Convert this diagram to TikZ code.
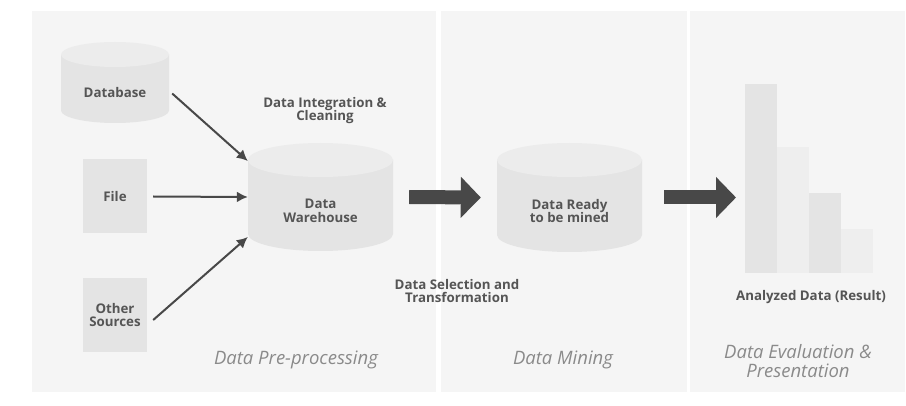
\documentclass[tikz,border=0pt]{standalone}
\usepackage{fontspec}
\setmainfont{Open Sans}
\usepackage{tikz}
\usetikzlibrary{arrows.meta,positioning}

\definecolor{panel}{HTML}{F5F5F5}
\definecolor{drumside}{HTML}{E4E4E4}
\definecolor{drumtop}{HTML}{ECECEC}
\definecolor{barlight}{HTML}{EEEEEE}
\definecolor{ink}{HTML}{555555}
\definecolor{soft}{HTML}{8A8A8A}
\definecolor{pointer}{HTML}{484848}

% drum: name, centre, half width, half height, cap radius, text
\newcommand{\drum}[6]{%
\coordinate (#1-c) at (#2);
\fill[drumside] ([shift={(-#3,#4-#5)}]#1-c) -- ([shift={(-#3,-#4+#5)}]#1-c)
  arc[start angle=180, end angle=360, x radius=#3, y radius=#5]
  -- ([shift={(#3,#4-#5)}]#1-c) -- cycle;
\fill[drumtop] ([shift={(0,#4-#5)}]#1-c) ellipse[x radius=#3, y radius=#5];
\node[inner sep=0, minimum width=2*#3, minimum height=2*#4] (#1) at (#1-c) {};
\node[tag, align=center] (#1-t) at ([yshift=-0.8*#5]#1-c) {#6};
}

\begin{document}
\begin{tikzpicture}[x=1pt,y=1pt,
  tag/.style={font=\bfseries\fontsize{13.3}{13.5}\selectfont, text=ink, inner sep=0},
  stage/.style={font=\itshape\fontsize{18.5}{18.5}\selectfont, text=soft, inner sep=0},
  box/.style={tag, fill=drumside, minimum width=64, minimum height=74, align=center},
  bar/.style={inner sep=0, outer sep=0, minimum width=32, anchor=south west},
  feed/.style={draw=pointer, line width=2pt, -{Latex[length=11pt,width=11pt]}},
  push/.style={draw=pointer, line width=14pt, -{Triangle[length=20pt,width=40pt]}}]
\useasboundingbox (0,0) rectangle (906,405);
%
\fill[panel] (32,13) rectangle (436,394);
\fill[panel] (441,13) rectangle (687,394);
\fill[panel] (690,13) rectangle (905,394);
%
\drum{db}{115,322.5}{54}{40.5}{12.5}{Database}
\drum{dw}{320.5,208}{72.5}{54}{17}{Data\\Warehouse}
\drum{ready}{569.5,207.5}{72.5}{54.5}{17}{Data Ready\\to be mined}
%
\node[box] (file) at (115,208.5) {File};
\node[box] (other) at (115,90) {Other\\Sources};
%
\foreach \h/\c [count=\i] in {189/drumside,126/barlight,80/drumside,44/barlight}
  \node[bar, fill=\c, minimum height=\h] (bar\i) at (745+32*\i-32,132) {};
\coordinate (res) at (bar1.west |- ready.east);
%
\draw[feed] ([shift={(3,-11)}]db.east) -- ([yshift=36]dw.west);
\draw[feed] ([xshift=6]file.east) -- (dw.west);
\draw[feed] ([shift={(6,-5)}]other.east) -- ([yshift=-40]dw.west);
\draw[push] ([xshift=16]dw.east) -- ([xshift=-16]ready.west);
\draw[push] ([xshift=22]ready.east) -- ([xshift=-9]res);
%
\node[tag, align=center] (integ) at (325,294.5) {Data Integration \&\\Cleaning};
\node[tag, align=center] (select) at (457,114) {Data Selection and\\Transformation};
\node[tag] (result) at (811,108) {Analyzed Data (Result)};
%
\node[stage] (pre) at (296,45) {Data Pre-processing};
\node[stage] (mine) at (563,45) {Data Mining};
\node[stage, align=center] (eval) at (798,44) {Data Evaluation \&\\Presentation};
\end{tikzpicture}
\end{document}
